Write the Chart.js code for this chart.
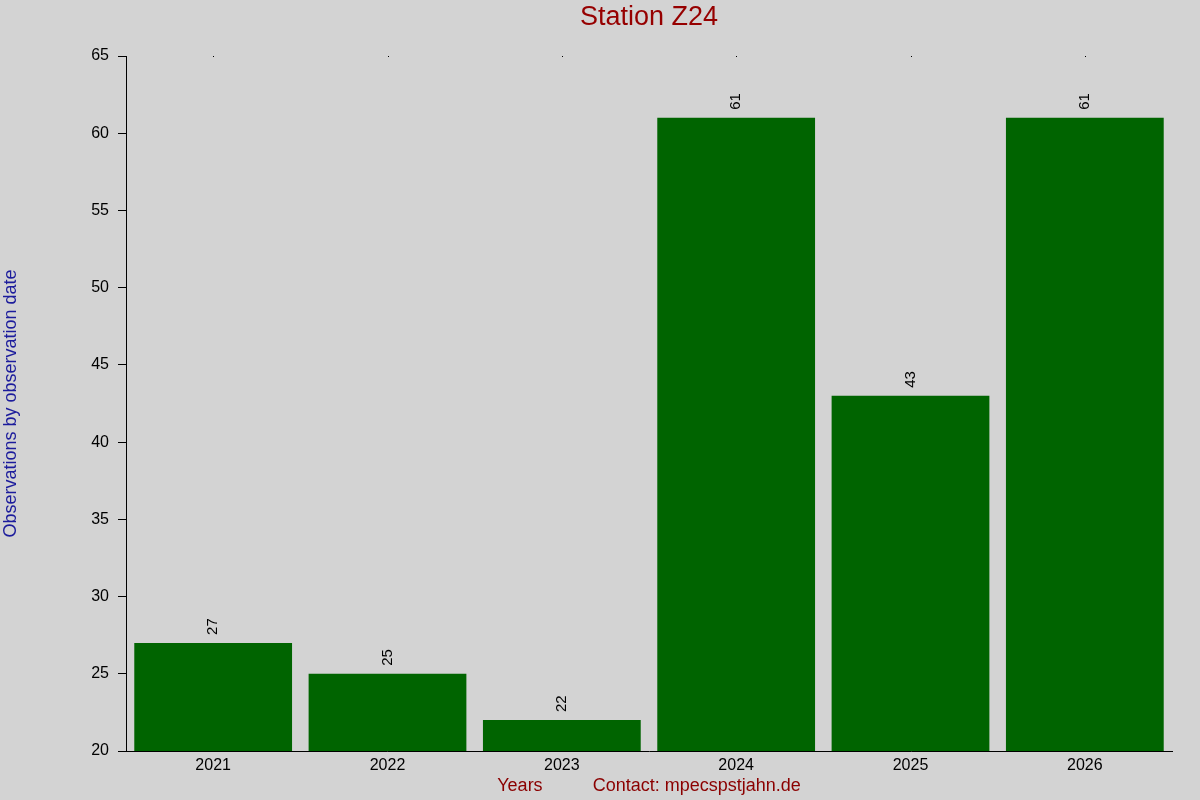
<!DOCTYPE html>
<html>
<head>
<meta charset="utf-8">
<script src="https://cdn.jsdelivr.net/npm/chart.js@4/dist/chart.umd.min.js"></script>
<style>
  html, body { margin: 0; padding: 0; background: #d3d3d3; }
  #wrap { width: 1200px; height: 800px; }
</style>
</head>
<body>
<div id="wrap"><canvas id="stationChart"></canvas></div>
<script>
const years = ["2021", "2022", "2023", "2024", "2025", "2026"];
const observations = [27, 25, 22, 61, 43, 61];
const yTicks = [20, 25, 30, 35, 40, 45, 50, 55, 60, 65];
const chartTitle = "Station Z24";

const FONT = "Arial, 'Liberation Sans', sans-serif";

// background, title over the plot area, value labels and small top tick dots
const decorations = {
  id: "decorations",
  beforeDraw(chart) {
    const ctx = chart.ctx;
    ctx.save();
    ctx.fillStyle = "#d3d3d3";
    ctx.fillRect(0, 0, chart.width, chart.height);
    ctx.restore();
  },
  afterDatasetsDraw(chart) {
    const ctx = chart.ctx;
    const area = chart.chartArea;
    const meta = chart.getDatasetMeta(0);
    ctx.save();
    ctx.font = "27px " + FONT;
    ctx.fillStyle = "#960000";
    ctx.textAlign = "center";
    ctx.textBaseline = "middle";
    ctx.fillText(chartTitle, (area.left + area.right) / 2, 18);

    ctx.font = "15px " + FONT;
    ctx.fillStyle = "#000";
    ctx.textAlign = "left";
    meta.data.forEach(function (bar, i) {
      ctx.save();
      ctx.translate(bar.x, bar.y - 8);
      ctx.rotate(-Math.PI / 2);
      ctx.fillText(String(observations[i]), 0, 0);
      ctx.restore();
    });
    const x = chart.scales.x;
    years.forEach(function (y, i) {
      ctx.fillRect(Math.round(x.getPixelForValue(i)), area.top, 1, 1);
    });
    ctx.restore();
  },
};

const config = {
  type: "bar",
  data: {
    labels: years,
    datasets: [
      {
        label: "Observations",
        data: observations,
        backgroundColor: "rgb(0, 100, 0)",
        borderWidth: 0,
        categoryPercentage: 1.0,
        barPercentage: 0.905,
      },
    ],
  },
  options: {
    responsive: true,
    maintainAspectRatio: false,
    animation: false,
    devicePixelRatio: 1,
    layout: {
      padding: { left: 0, right: 28, top: 56, bottom: 0 },
    },
    plugins: {
      legend: { display: false },
      tooltip: { enabled: false },
      title: { display: false },
    },
    scales: {
      x: {
        grid: { display: true, drawOnChartArea: false, drawTicks: false },
        border: { display: true, color: "#000", width: 1 },
        ticks: {
          color: "#000",
          font: { family: FONT, size: 16 },
          padding: 5,
          maxRotation: 0,
        },
        title: {
          display: true,
          text: "Years          Contact: mpecspstjahn.de",
          color: "#8b0000",
          font: { family: FONT, size: 18 },
          padding: { top: 0, bottom: 3 },
        },
        afterFit(scale) {
          scale.height = 49;
        },
      },
      y: {
        min: 20,
        max: 65,
        afterBuildTicks(scale) {
          scale.ticks = yTicks.map(function (v) { return { value: v }; });
        },
        grid: {
          drawOnChartArea: false,
          drawTicks: true,
          tickLength: 8,
          color: "#000",
        },
        border: { display: true, color: "#000", width: 1 },
        ticks: {
          color: "#000",
          font: { family: FONT, size: 16 },
          padding: 9,
        },
        title: {
          display: true,
          text: "Observations by observation date",
          color: "#1c1c9c",
          font: { family: FONT, size: 18 },
          padding: 0,
        },
        afterFit(scale) {
          scale.width = 126;
        },
      },
    },
  },
  plugins: [decorations],
};

const stationChart = new Chart(document.getElementById("stationChart"), config);
</script>
</body>
</html>
